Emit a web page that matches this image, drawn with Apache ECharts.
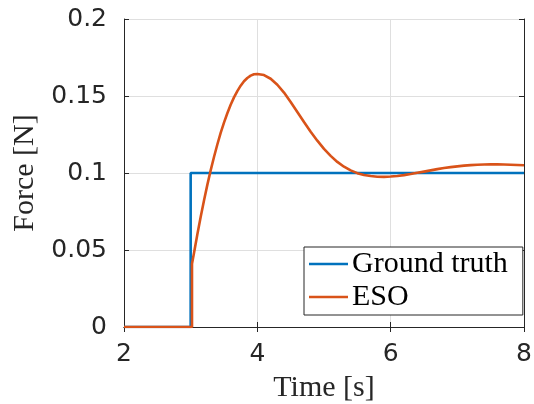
<!DOCTYPE html>
<html>
<head>
<meta charset="utf-8">
<script src="https://cdn.jsdelivr.net/npm/echarts@6/dist/echarts.min.js"></script>
<style>
  html, body { margin: 0; padding: 0; background: #fff; }
  #chart { width: 534px; height: 404px; }
</style>
</head>
<body>
<div id="chart"></div>
<script>
// Ground truth (step) : time [s], force [N]
var gtTime  = [2, 3, 3, 8];
var gtForce = [0, 0, 0.1, 0.1];

// ESO estimate : time [s], force [N]
var esoTime  = [2, 3.02, 3.02, 3.05, 3.1, 3.15, 3.2, 3.25, 3.3, 3.35, 3.4, 3.45, 3.5, 3.55, 3.6, 3.65, 3.7, 3.75, 3.8, 3.85, 3.9, 3.95, 4.0,
                4.1, 4.2, 4.3, 4.4, 4.5, 4.6, 4.7, 4.8, 4.9, 5.0, 5.1, 5.2, 5.3, 5.4, 5.5, 5.6, 5.7, 5.8, 5.9, 6.0,
                6.1, 6.2, 6.3, 6.4, 6.5, 6.6, 6.7, 6.8, 6.9, 7.0, 7.1, 7.2, 7.3, 7.4, 7.5, 7.6, 7.7, 7.8, 7.9, 8.0];
var esoForce = [0, 0, 0.041, 0.048, 0.060, 0.0715, 0.0822, 0.0923, 0.1017, 0.1104, 0.1185, 0.1260, 0.1327, 0.1388, 0.1443, 0.1491, 0.1532, 0.1567, 0.1596, 0.1617, 0.1632, 0.1641, 0.1643,
                0.1636, 0.1612, 0.1573, 0.1522, 0.1461, 0.1396, 0.1331, 0.1268, 0.1210, 0.1157, 0.1111, 0.1072, 0.1041, 0.1017, 0.0999, 0.0987, 0.0980, 0.0976, 0.0975, 0.0977,
                0.0981, 0.0986, 0.0993, 0.1001, 0.1009, 0.1017, 0.1025, 0.1032, 0.1038, 0.1043, 0.1048, 0.1051, 0.1054, 0.1055, 0.1056, 0.1056, 0.1055, 0.1054, 0.1052, 0.1050];

var xTicks = [2, 4, 6, 8];
var yTicks = [0, 0.05, 0.1, 0.15, 0.2];

function zip(a, b) { return a.map(function (v, i) { return [v, b[i]]; }); }

var axisColor = '#262626';
var gridColor = '#dfdfdf';
var serif = '"Liberation Serif", "DejaVu Serif", serif';
var sans = '"DejaVu Sans", sans-serif';

var chart = echarts.init(document.getElementById('chart'), null, { renderer: 'canvas' });
chart.setOption({
  animation: false,
  backgroundColor: '#ffffff',
  grid: { left: 124, right: 10, top: 19, bottom: 77, containLabel: false, outerBoundsMode: 'none' },
  xAxis: [{
    type: 'value', min: xTicks[0], max: xTicks[xTicks.length - 1], interval: xTicks[1] - xTicks[0],
    position: 'bottom',
    name: 'Time [s]', nameLocation: 'middle', nameGap: 46,
    nameTextStyle: { fontFamily: serif, fontSize: 30, color: axisColor },
    axisLine: { show: true, lineStyle: { color: axisColor, width: 1 } },
    axisTick: { show: true, inside: true, length: 5, lineStyle: { color: axisColor } },
    axisLabel: { fontFamily: sans, fontSize: 25, color: axisColor, margin: 15 },
    splitLine: { show: true, lineStyle: { color: gridColor, width: 1 } }
  }, {
    type: 'value', min: xTicks[0], max: xTicks[xTicks.length - 1], interval: xTicks[1] - xTicks[0],
    position: 'top',
    axisLine: { show: true, lineStyle: { color: axisColor, width: 1 } },
    axisTick: { show: true, inside: true, length: 5, lineStyle: { color: axisColor } },
    axisLabel: { show: false },
    splitLine: { show: false }
  }],
  yAxis: [{
    type: 'value', min: yTicks[0], max: yTicks[yTicks.length - 1], interval: 0.05,
    position: 'left',
    name: 'Force [N]', nameLocation: 'middle', nameGap: 80, nameRotate: 90,
    nameTextStyle: { fontFamily: serif, fontSize: 30, color: axisColor },
    axisLine: { show: true, lineStyle: { color: axisColor, width: 1 } },
    axisTick: { show: true, inside: true, length: 5, lineStyle: { color: axisColor } },
    axisLabel: { fontFamily: sans, fontSize: 25, color: axisColor, margin: 17,
      formatter: function (v) { return String(+v.toFixed(2)); } },
    splitLine: { show: true, lineStyle: { color: gridColor, width: 1 } }
  }, {
    type: 'value', min: yTicks[0], max: yTicks[yTicks.length - 1], interval: 0.05,
    position: 'right',
    axisLine: { show: true, lineStyle: { color: axisColor, width: 1 } },
    axisTick: { show: true, inside: true, length: 5, lineStyle: { color: axisColor } },
    axisLabel: { show: false },
    splitLine: { show: false }
  }],
  legend: {
    orient: 'vertical',
    left: 304, top: 247,
    padding: [2, 15, 3, 5],
    icon: 'rect',
    itemWidth: 39, itemHeight: 2.6, itemGap: 3,
    backgroundColor: '#ffffff',
    borderColor: axisColor, borderWidth: 1, borderRadius: 0,
    textStyle: { fontFamily: serif, fontSize: 30, color: '#000', lineHeight: 30, padding: [0, 0, 0, -1] },
    data: ['Ground truth', 'ESO']
  },
  series: [{
    name: 'Ground truth', type: 'line', xAxisIndex: 0, yAxisIndex: 0,
    data: zip(gtTime, gtForce), symbol: 'none', showSymbol: false,
    lineStyle: { color: '#0072BD', width: 2.6 }, itemStyle: { color: '#0072BD' }
  }, {
    name: 'ESO', type: 'line', xAxisIndex: 0, yAxisIndex: 0,
    data: zip(esoTime, esoForce), symbol: 'none', showSymbol: false, smooth: false,
    lineStyle: { color: '#D95319', width: 2.6 }, itemStyle: { color: '#D95319' }
  }]
});
</script>
</body>
</html>
